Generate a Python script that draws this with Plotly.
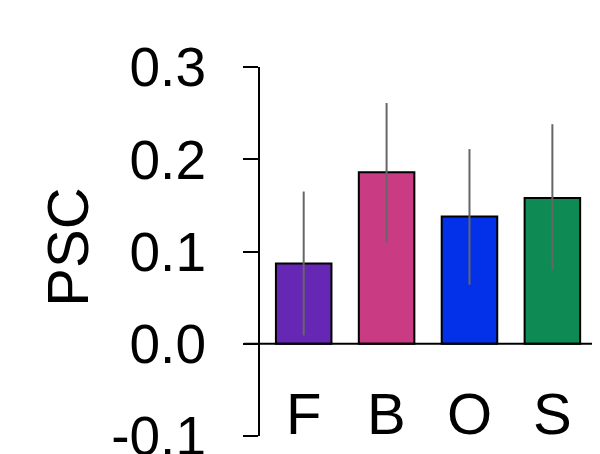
import plotly.graph_objects as go

categories = ["F", "B", "O", "S"]
psc = [0.087, 0.186, 0.138, 0.158]
err_low = [0.009, 0.110, 0.064, 0.080]
err_high = [0.165, 0.261, 0.211, 0.238]
colors = ["#6628B4", "#C93C83", "#0330E9", "#0E8B55"]
y_ticks = [-0.1, 0.0, 0.1, 0.2, 0.3]
y_tick_labels = ["-0.1", "0.0", "0.1", "0.2", "0.3"]

xpos = list(range(len(categories)))
up = [h - v for h, v in zip(err_high, psc)]
down = [v - l for v, l in zip(psc, err_low)]

FONT = "Liberation Sans, Arial, Helvetica, sans-serif"

fig = go.Figure()
fig.add_trace(go.Bar(
    x=xpos, y=psc, width=0.67,
    marker=dict(color=colors, line=dict(color="black", width=2)),
    error_y=dict(type="data", symmetric=False, array=up, arrayminus=down,
                 color="#666666", thickness=2, width=0),
    showlegend=False,
))

# zero line extending slightly left of y-axis
fig.add_shape(type="line", xref="paper", yref="y", x0=-0.048, x1=1.0, y0=0, y1=0,
              line=dict(color="black", width=2))

for i, c in enumerate(categories):
    fig.add_annotation(x=i, y=-0.0755, xref="x", yref="y", text=c, showarrow=False,
                       xanchor="center", yanchor="middle",
                       font=dict(family=FONT, size=58, color="black"))

fig.add_annotation(x=-0.5766, y=0.513, xref="paper", yref="paper", text="PSC",
                   showarrow=False, textangle=-90, xanchor="center", yanchor="middle",
                   font=dict(family=FONT, size=58, color="black"))

# page body has an 8px default margin; compensate so the plot lands where the reference has it
fig.update_layout(
    width=592, height=446,
    margin=dict(l=252, r=7, t=59, b=18, pad=0, autoexpand=False),
    paper_bgcolor="white", plot_bgcolor="white",
    font=dict(family=FONT, color="black"),
    xaxis=dict(range=[-0.527, 3.49], showgrid=False, zeroline=False, showline=False,
               showticklabels=False, ticks="", automargin=False),
    yaxis=dict(range=[-0.1, 0.3], tickvals=y_ticks, ticktext=y_tick_labels,
               showgrid=False, zeroline=False, showline=True, linecolor="black",
               linewidth=2, ticks="outside", ticklen=15, tickwidth=2, tickcolor="black",
               tickfont=dict(family=FONT, size=55, color="black"),
               ticklabelstandoff=26, ticklabeloverflow="allow", automargin=False),
)

fig.write_html("out.html")
